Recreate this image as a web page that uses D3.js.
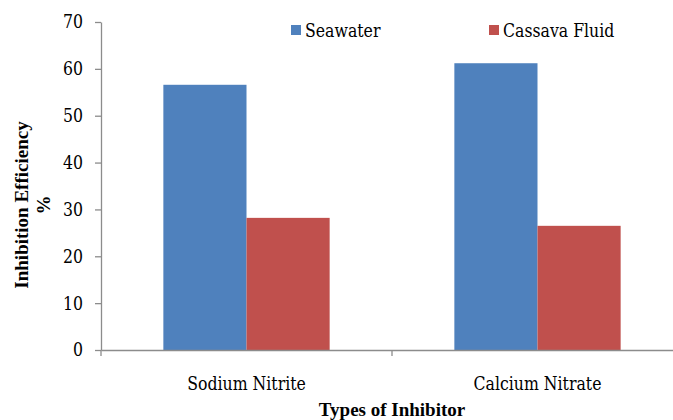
<!DOCTYPE html>
<html>
<head>
<meta charset="utf-8">
<script src="https://cdn.jsdelivr.net/npm/d3@7/dist/d3.min.js"></script>
<style>
  html, body { margin: 0; padding: 0; background: #fff; }
  svg { display: block; }
  svg text { fill: #000; }
</style>
</head>
<body>
<svg id="chart" width="673" height="420"></svg>
<script>
// Inhibition efficiency (%) by inhibitor type and medium
const categories = ["Sodium Nitrite", "Calcium Nitrate"];
const seriesNames = ["Seawater", "Cassava Fluid"];
const seawater = [56.6, 61.2];
const cassavaFluid = [28.2, 26.5];
const yTicks = [0, 10, 20, 30, 40, 50, 60, 70];
const colors = ["#4F81BD", "#C0504D"];

const REG = '"DejaVu Serif", serif';
const BOLD = '"Liberation Serif", "Times New Roman", serif';
const BASE = 20;   // nominal Times-equivalent size of regular labels
const REG_SIZE = 18;

const svg = d3.select("#chart");

// DejaVu Serif runs wider than Times; squeeze labels to Times proportions.
const probe = svg.append("text").attr("font-family", REG).attr("font-size", 100).text("0000000000");
const digitEm = probe.node().getComputedTextLength() / 1000;
probe.remove();
const squeeze = (0.5 * BASE) / (digitEm * REG_SIZE);

function fitText(sel) {
  sel.each(function () {
    const t = d3.select(this);
    t.attr("font-family", REG).attr("font-size", REG_SIZE);
    const w = this.getComputedTextLength();
    t.attr("textLength", w * squeeze).attr("lengthAdjust", "spacingAndGlyphs");
  });
}

const margin = { left: 101, right: -10, top: 22, bottom: 70 };
const width = 673 - margin.left - margin.right;
const height = 420 - margin.top - margin.bottom;

const g = svg.append("g").attr("transform", `translate(${margin.left},${margin.top})`);

const x0 = d3.scaleBand().domain(categories).range([0, width]);
// gap of 1.5 bar widths per category, split evenly on both sides
const barW = x0.bandwidth() / (2 + 1.5);
const y = d3.scaleLinear().domain([0, 70]).range([height, 0]);

const rows = categories.map((c, i) => ({ cat: c, vals: [seawater[i], cassavaFluid[i]] }));

// bars
const groups = g.selectAll(".grp").data(rows).enter().append("g")
  .attr("transform", d => `translate(${x0(d.cat)},0)`);
groups.selectAll("rect").data(d => d.vals.map((v, k) => ({ v, k }))).enter().append("rect")
  .attr("x", d => barW * 0.75 + d.k * barW)
  .attr("width", barW)
  .attr("y", d => y(d.v))
  .attr("height", d => height - y(d.v))
  .attr("fill", d => colors[d.k]);

// y axis
const yAxis = g.append("g").call(d3.axisLeft(y).tickValues(yTicks).tickSize(6).tickPadding(12).tickSizeOuter(0));
yAxis.select(".domain").attr("stroke", "#8c8c8c").attr("stroke-width", 1.3);
yAxis.selectAll(".tick line").attr("stroke", "#8c8c8c").attr("stroke-width", 1.3);
yAxis.selectAll(".tick text").attr("fill", "#000").attr("dy", "0.33em").call(fitText);

// x axis
const xAxis = g.append("g").attr("transform", `translate(0,${height})`)
  .call(d3.axisBottom(x0).tickSize(0).tickPadding(27));
xAxis.select(".domain").attr("stroke", "#8c8c8c").attr("stroke-width", 1.3);
xAxis.selectAll(".tick text").attr("fill", "#000").call(fitText);
// category boundary ticks
const bounds = d3.range(categories.length + 1).map(i => i * x0.step());
xAxis.selectAll(".bound").data(bounds).enter().append("line")
  .attr("x1", d => d).attr("x2", d => d).attr("y1", 0).attr("y2", 6)
  .attr("stroke", "#8c8c8c").attr("stroke-width", 1.3);

// axis titles
svg.append("text")
  .attr("x", margin.left + width / 2).attr("y", 416)
  .attr("text-anchor", "middle")
  .attr("font-family", BOLD)
  .attr("font-size", 19).attr("font-weight", "bold")
  .text("Types of Inhibitor");

const yt = svg.append("text")
  .attr("transform", `translate(28,205) rotate(-90)`)
  .attr("text-anchor", "middle")
  .attr("font-family", BOLD)
  .attr("font-size", 19).attr("font-weight", "bold");
yt.append("tspan").attr("x", 0).attr("y", 0).text("Inhibition Efficiency");
yt.append("tspan").attr("x", 0).attr("y", 22).text("%");

// legend
const legendX = [291, 489];
const legend = svg.selectAll(".lg").data(seriesNames).enter().append("g")
  .attr("transform", (d, i) => `translate(${legendX[i]},25)`);
legend.append("rect").attr("width", 10).attr("height", 10).attr("fill", (d, i) => colors[i]);
legend.append("text").attr("x", 14).attr("y", 12).text(d => d).call(fitText);
</script>
</body>
</html>
